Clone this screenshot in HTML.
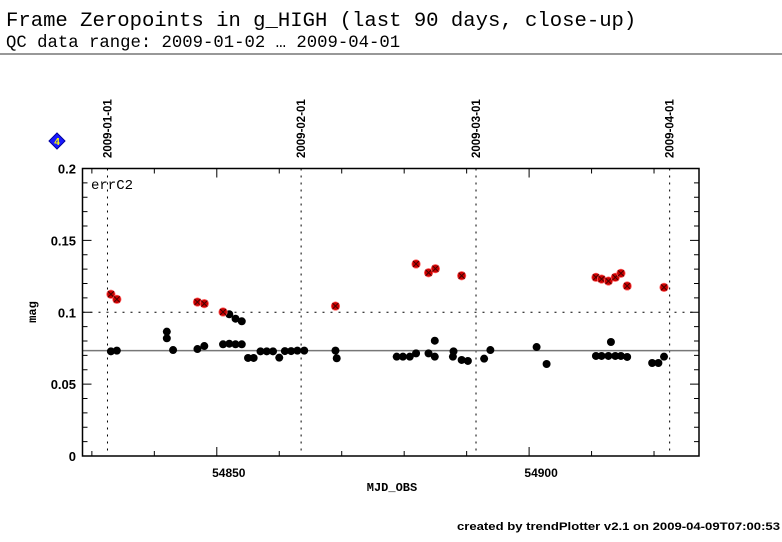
<!DOCTYPE html>
<html><head><meta charset="utf-8"><style>
body{margin:0;background:#fff;width:782px;height:542px;overflow:hidden}
svg{display:block}
</style></head><body>
<svg id="chart" width="782" height="542" xmlns="http://www.w3.org/2000/svg">
<text x="6" y="26" font-family="Liberation Mono, monospace" font-size="20.6">Frame Zeropoints in g_HIGH (last 90 days, close-up)</text>
<text x="6" y="47" font-family="Liberation Mono, monospace" font-size="17.3">QC data range: 2009-01-02 … 2009-04-01</text>
<line x1="0" y1="54" x2="782" y2="54" stroke="#777" stroke-width="1.5"/>
<g id="plot"></g>
<text x="457" y="530" textLength="323" lengthAdjust="spacingAndGlyphs" font-family="Liberation Sans, sans-serif" font-weight="bold" font-size="11">created by trendPlotter v2.1 on 2009-04-09T07:00:53</text>
</svg>
<script>
const redMjd=[54833.05,54834.0,54846.9,54848.0,54851.0,54869.0,54881.9,54883.9,54885.0,54889.2,54910.7,54911.6,54912.7,54913.8,54914.7,54915.7,54921.6];
const redVal=[0.1125,0.1090,0.1071,0.1060,0.1002,0.1043,0.1336,0.1275,0.1303,0.1254,0.1243,0.1231,0.1217,0.1243,0.1271,0.1183,0.1173];
const blkMjd=[54833.05,54834.0,54842.0,54842.0,54843.0,54846.9,54848.0,54851.0,54852.0,54853.0,54852.0,54853.0,54854.0,54854.0,54855.0,54855.9,54857.0,54858.0,54859.0,54860.0,54860.9,54861.9,54862.9,54864.0,54869.0,54869.2,54878.8,54879.8,54880.9,54881.9,54883.9,54884.9,54884.9,54887.9,54887.8,54889.2,54890.2,54892.8,54893.8,54901.2,54902.8,54910.7,54911.6,54912.7,54913.1,54913.8,54914.7,54915.7,54919.7,54920.7,54921.6];
const blkVal=[0.0728,0.0733,0.0865,0.0819,0.0737,0.0744,0.0765,0.0777,0.0781,0.0955,0.0986,0.0777,0.0937,0.0777,0.0682,0.0682,0.0728,0.0728,0.0728,0.0684,0.0730,0.0730,0.0733,0.0733,0.0733,0.0680,0.0691,0.0691,0.0691,0.0714,0.0714,0.0802,0.0691,0.0728,0.0691,0.0668,0.0661,0.0677,0.0737,0.0758,0.0640,0.0696,0.0696,0.0696,0.0793,0.0696,0.0696,0.0689,0.0647,0.0647,0.0691];
const meanVal=[0.0733];
const thresholdVal=[0.1];
const dateLabels=["2009-01-01","2009-02-01","2009-03-01","2009-04-01"];
const dateMjd=[54832.5,54863.5,54891.5,54922.5];
const yTicks=[0,0.05,0.1,0.15,0.2];
const yTickLabels=["0","0.05","0.1","0.15","0.2"];
const xTicks=[54850,54900];
const xTickLabels=["54850","54900"];

const L=82.5,R=699,T=168.5,B=456;
const X0=54828.5,X1=54927.2,Y0=0,Y1=0.2;
const xs=v=>L+(v-X0)/(X1-X0)*(R-L);
const ys=v=>B-(v-Y0)/(Y1-Y0)*(B-T);
const NS="http://www.w3.org/2000/svg";
const g=document.getElementById('plot');
function mk(tag,attrs,parent){const e=document.createElementNS(NS,tag);for(const k in attrs)e.setAttribute(k,attrs[k]);(parent||g).appendChild(e);return e;}

dateMjd.forEach((d,i)=>{
  const x=xs(d);
  const ln=mk('line',{x1:x,y1:T,x2:x,y2:B,stroke:'#000','stroke-width':1,'stroke-dasharray':'2,5'});
  
  
  const t=mk('text',{x:0,y:0,transform:`translate(${x+4},158) rotate(-90)`,'font-family':'Liberation Sans, sans-serif','font-weight':'bold','font-size':11.5});
  t.textContent=dateLabels[i];
  
  
});
const th=mk('line',{x1:L,y1:ys(thresholdVal[0]),x2:R,y2:ys(thresholdVal[0]),stroke:'#000','stroke-width':1,'stroke-dasharray':'2,6'});


const mn=mk('line',{x1:L,y1:ys(meanVal[0]),x2:R,y2:ys(meanVal[0]),stroke:'#777','stroke-width':1.5});


const fr=mk('rect',{x:L,y:T,width:R-L,height:B-T,fill:'none',stroke:'#000','stroke-width':1.5});


for(let v=54830;v<=54920;v+=10){
  const major=(v%50===0);const len=major?9:5;const x=xs(v);
  const a=mk('line',{x1:x,y1:B,x2:x,y2:B-len,stroke:'#000'});
  
  
  const b=mk('line',{x1:x,y1:T,x2:x,y2:T+len,stroke:'#000'});
  
  
}
xTicks.forEach((v,i)=>{
  const t=mk('text',{x:xs(v)+12,y:477,'text-anchor':'middle','font-family':'Liberation Sans, sans-serif','font-weight':'bold','font-size':12});
  t.textContent=xTickLabels[i];
  
  
});
for(let v=0;v<=0.2001;v+=0.01){
  const major=Math.abs(v/0.05-Math.round(v/0.05))<1e-6;const len=major?9:5;const y=ys(v);
  const a=mk('line',{x1:L,y1:y,x2:L+len,y2:y,stroke:'#000'});
  
  
  const b=mk('line',{x1:R,y1:y,x2:R-len,y2:y,stroke:'#000'});
  
  
}
yTicks.forEach((v,i)=>{
  const t=mk('text',{x:76,y:ys(v)+5,'text-anchor':'end','font-family':'Liberation Sans, sans-serif','font-weight':'bold','font-size':13});
  t.textContent=yTickLabels[i];
  
  
});
const xt=mk('text',{x:392,y:491,'text-anchor':'middle','font-family':'Liberation Mono, monospace','font-weight':'bold','font-size':12});
xt.textContent='MJD_OBS';


const yt=mk('text',{x:0,y:0,transform:'translate(36,312) rotate(-90)','text-anchor':'middle','font-family':'Liberation Mono, monospace','font-weight':'bold','font-size':12});
yt.textContent='mag';


const lab=mk('text',{x:91,y:189,'font-family':'Liberation Mono, monospace','font-size':14});
lab.textContent='errC2';


const dg=mk('g',{});


mk('polygon',{points:'57,133 65,141 57,149 49,141',fill:'#1a1aff',stroke:'#0000a0'},dg);
const dt=mk('text',{x:57,y:145,'text-anchor':'middle','font-family':'Liberation Sans, sans-serif','font-weight':'bold','font-size':10,fill:'#ffff00'},dg);
dt.textContent='4';
blkMjd.forEach((m,i)=>{
  const c=mk('circle',{cx:xs(m),cy:ys(blkVal[i]),r:4,fill:'#000'});
  
  
});
redMjd.forEach((m,i)=>{
  const x=xs(m),y=ys(redVal[i]);
  const c=mk('circle',{cx:x,cy:y,r:4.2,fill:'#cc0000',stroke:'#ff6060','stroke-width':0.8});
  
  
  mk('path',{d:`M${x-3},${y-3}L${x+3},${y+3}M${x-3},${y+3}L${x+3},${y-3}`,stroke:'#400','stroke-width':1});
});
</script>
</body></html>
